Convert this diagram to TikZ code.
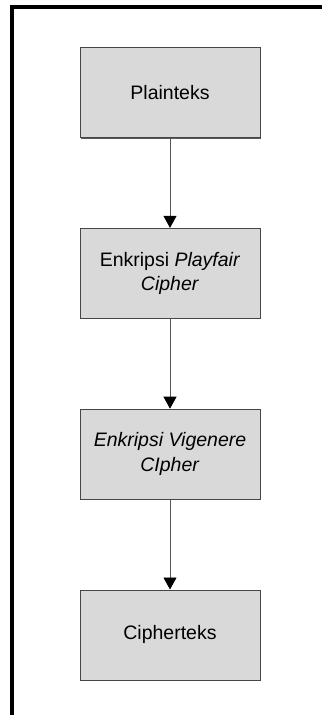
\documentclass[tikz,border=0pt]{standalone}
\usepackage{fontspec}
\setmainfont{Liberation Sans}
\usepackage{tikz}
\usetikzlibrary{arrows.meta, positioning, shadows}
\definecolor{boxgray}{RGB}{217,217,217}
\definecolor{boxline}{RGB}{70,70,70}
\definecolor{linegray}{RGB}{85,85,85}
\tikzset{
  block/.style={rectangle, draw=boxline, fill=boxgray,
    align=center, minimum width=180pt, minimum height=90pt,
    font=\fontsize{19.5}{24.5}\selectfont, line width=0.8pt,
    drop shadow={shadow xshift=1pt, shadow yshift=-1pt, fill=black!65, opacity=1}},
  arrow/.style={-{Triangle[length=12pt,width=13pt,color=black]}, line width=0.9pt, color=linegray},
  frame/.style={line width=3.5pt, color=black}
}

\begin{document}
\begin{tikzpicture}[x=1pt, y=1pt, node distance=90pt]
  \useasboundingbox (0,0) rectangle (322,-715);
  % outer frame (open on right and bottom)
  \draw[frame] (12,-715) -- (12,-7) -- (322,-7);

  \node[block] (plain) at (170,-92.5) {Plainteks};
  \node[block, below=of plain] (playfair) {Enkripsi \textit{Playfair}\\\textit{Cipher}};
  \node[block, below=of playfair] (vigenere) {\textit{Enkripsi Vigenere}\\\textit{CIpher}};
  \node[block, below=of vigenere] (cipher) {Cipherteks};

  \draw[arrow] (plain) -- (playfair);
  \draw[arrow] (playfair) -- (vigenere);
  \draw[arrow] (vigenere) -- (cipher);
\end{tikzpicture}
\end{document}
